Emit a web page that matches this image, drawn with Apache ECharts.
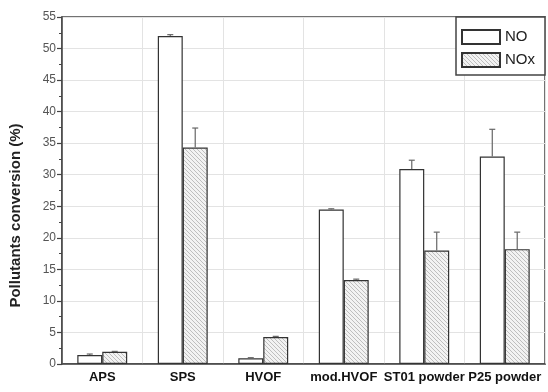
<!DOCTYPE html>
<html>
<head>
<meta charset="utf-8">
<script src="https://cdn.jsdelivr.net/npm/echarts@6/dist/echarts.min.js"></script>
<style>
html,body{margin:0;padding:0;background:#fff;}
#c{width:548px;height:392px;}
</style>
</head>
<body>
<div id="c"></div>
<script>
const categories = ['APS', 'SPS', 'HVOF', 'mod.HVOF', 'ST01 powder', 'P25 powder'];
const noValues = [1.43, 52.0, 0.9, 24.5, 30.9, 32.9];
const noErrors = [0.15, 0.2, 0.1, 0.1, 1.4, 4.3];
const noxValues = [1.95, 34.3, 4.28, 13.3, 18.0, 18.2];
const noxErrors = [0.05, 3.1, 0.1, 0.15, 2.9, 2.7];
const yTicks = [0, 55, 5];

const FONT = '"Liberation Sans", Arial, sans-serif';
const GAP = 0.38;

function hatch() {
  const s = 8;
  const cv = document.createElement('canvas');
  cv.width = s; cv.height = s;
  const ctx = cv.getContext('2d');
  ctx.fillStyle = '#f2f2f2';
  ctx.fillRect(0, 0, s, s);
  ctx.strokeStyle = '#b0b0b0';
  ctx.lineWidth = 0.8;
  for (let k = -8; k <= 8; k += 4) {
    ctx.beginPath();
    ctx.moveTo(k, 0);
    ctx.lineTo(k + s, s);
    ctx.stroke();
  }
  return cv;
}

function errSeries(vals, errs, side) {
  return {
    type: 'custom',
    xAxisIndex: 0,
    yAxisIndex: 0,
    silent: true,
    z: 5,
    data: vals.map((v, i) => [i, v, v + errs[i]]),
    renderItem: function (params, api) {
      const i = api.value(0);
      const band = api.size([1, 0])[0];
      const bw = band * (1 - GAP) / 2;
      const top = api.coord([i, api.value(2)]);
      const base = api.coord([i, api.value(1)]);
      const x = top[0] + side * bw / 2;
      const style = { stroke: '#666', lineWidth: 1.2 };
      return {
        type: 'group',
        children: [
          { type: 'line', shape: { x1: x, y1: base[1], x2: x, y2: top[1] }, style: style },
          { type: 'line', shape: { x1: x - 3, y1: top[1], x2: x + 3, y2: top[1] }, style: style }
        ]
      };
    }
  };
}

const chart = echarts.init(document.getElementById('c'), null, { renderer: 'canvas' });
chart.setOption({
  animation: false,
  textStyle: { fontFamily: FONT },
  grid: { left: 58, right: 3, top: 17, bottom: 28, show: true, borderColor: '#444', borderWidth: 1.5, backgroundColor: 'transparent' },
  legend: {
    orient: 'vertical',
    right: 3,
    top: 17,
    itemWidth: 38,
    itemHeight: 14,
    itemGap: 7,
    icon: 'rect',
    padding: [12, 10, 7, 5],
    borderColor: '#444',
    borderWidth: 1.5,
    backgroundColor: '#fff',
    textStyle: { fontSize: 15, color: '#222', fontFamily: FONT },
    data: ['NO', 'NOx']
  },
  xAxis: [{
    type: 'category',
    data: categories,
    axisLine: { lineStyle: { color: '#444', width: 1.5 } },
    axisTick: { alignWithLabel: true, length: 6, lineStyle: { color: '#444', width: 1.2 } },
    axisLabel: { interval: 0, fontSize: 13, fontWeight: 'bold', color: '#111', margin: 7 },
    splitLine: { show: true, lineStyle: { color: '#e3e3e3', width: 1 } }
  }, {
    type: 'category',
    data: categories,
    position: 'bottom',
    axisLine: { show: false },
    axisTick: { length: 3, lineStyle: { color: '#444', width: 1 } },
    axisLabel: { show: false },
    splitLine: { show: false }
  }],
  yAxis: {
    type: 'value',
    min: yTicks[0],
    max: yTicks[1],
    interval: yTicks[2],
    name: 'Pollutants conversion (%)',
    nameLocation: 'middle',
    nameGap: 39,
    nameTextStyle: { fontSize: 15, fontWeight: 'bold', color: '#222', padding: [0, 50, 0, 0] },
    axisLine: { show: true, lineStyle: { color: '#444', width: 1.5 } },
    axisTick: { show: true, length: 5, lineStyle: { color: '#444', width: 1.2 } },
    minorTick: { show: true, splitNumber: 2, length: 3, lineStyle: { color: '#444', width: 1 } },
    axisLabel: { fontSize: 12, color: '#555', margin: 6 },
    splitLine: { show: true, lineStyle: { color: '#e3e3e3', width: 1 } }
  },
  series: [
    {
      name: 'NO',
      type: 'bar',
      data: noValues,
      barGap: '0%',
      barCategoryGap: (GAP * 100) + '%',
      itemStyle: { color: '#ffffff', borderColor: '#333', borderWidth: 1.2 }
    },
    {
      name: 'NOx',
      type: 'bar',
      data: noxValues,
      itemStyle: { color: { image: hatch(), repeat: 'repeat' }, borderColor: '#333', borderWidth: 1.2 }
    },
    errSeries(noValues, noErrors, -1),
    errSeries(noxValues, noxErrors, 1)
  ]
});
</script>
</body>
</html>
